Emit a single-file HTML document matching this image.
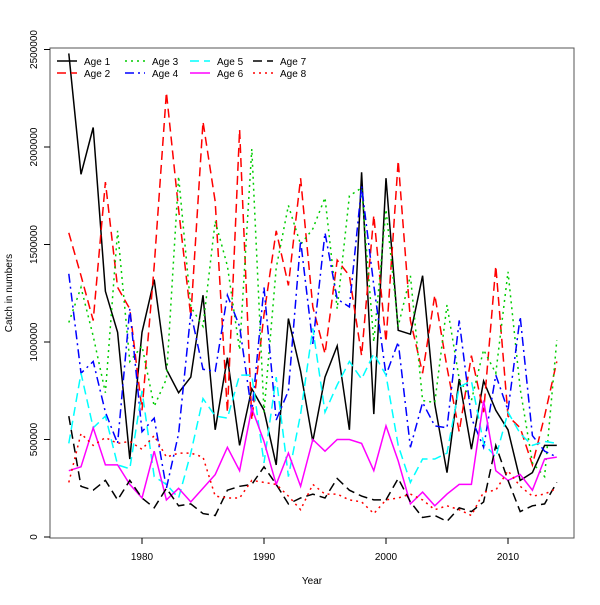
<!DOCTYPE html>
<html><head><meta charset="utf-8"><style>
body{margin:0;background:#fff}
svg{font-family:"Liberation Sans",sans-serif}
</style></head><body>
<svg id="chart" width="600" height="600" xmlns="http://www.w3.org/2000/svg"></svg>
<script>
const years=[];for(let y=1974;y<=2014;y++)years.push(y);
const age1=[2480,1860,2100,1260,1050,400,1050,1320,860,740,820,1240,550,920,470,760,650,370,1120,850,490,820,980,550,1870,630,1840,1060,1040,1340,680,330,810,450,800,650,550,290,330,470,470];
const age2=[1560,1340,1110,1820,1280,1170,650,1390,2280,1680,1130,2130,1720,640,2090,600,1140,1570,1290,1840,1180,940,1420,1340,930,1650,1000,1930,1110,840,1240,870,540,930,640,1390,620,560,370,620,900];
const age3=[1100,1280,1030,740,1570,900,980,670,810,1850,1180,1080,1620,1390,960,1990,640,1380,1700,1500,1580,1740,1170,1750,1790,1000,1680,1080,1340,700,690,1190,810,700,960,840,1360,760,380,310,1010];
const age4=[1350,840,900,640,480,1170,540,610,250,530,1150,860,850,1240,1080,640,1280,600,750,1520,990,1560,1220,1180,1800,1290,830,1000,460,690,570,560,1110,610,460,830,650,1130,520,440,410];
const age5=[480,840,560,620,370,350,750,310,270,200,430,710,620,610,830,830,380,820,310,630,1070,640,780,900,810,940,830,470,280,400,400,430,770,800,480,410,640,530,470,490,480];
const age6=[340,360,560,370,370,270,200,440,190,250,180,250,320,460,340,660,490,270,430,260,500,440,500,500,480,340,570,390,170,230,160,220,270,270,700,340,290,320,240,400,410];
const age7=[620,260,240,290,190,290,200,150,250,160,170,120,110,240,260,270,360,270,170,200,220,200,300,240,210,190,190,300,180,100,110,80,150,130,180,470,290,130,160,170,280];
const age8=[280,530,470,510,480,490,450,520,410,430,430,410,210,200,200,290,280,270,210,140,270,220,220,190,180,120,190,200,220,190,140,160,140,110,230,240,340,260,210,220,250];
const xTicks=[1980,1990,2000,2010];
const yTicks=[0,500000,1000000,1500000,2000000,2500000];
const seriesNames=["Age 1","Age 2","Age 3","Age 4","Age 5","Age 6","Age 7","Age 8"];
const seriesData=[age1,age2,age3,age4,age5,age6,age7,age8];
const colors=["#000","#f00","#0c0","#00f","#0ff","#f0f","#000","#f00"];
const dashes=["","9,5","2,4","9,4,2,4","9,5","","9,5","2,4"];
const NS="http://www.w3.org/2000/svg";
const svg=document.getElementById('chart');
const X=y=>142+(y-1980)*12.2;
const Y=v=>537-v/500000*97.5;
function mk(t,a,p){const e=document.createElementNS(NS,t);for(const k in a)e.setAttribute(k,a[k]);(p||svg).appendChild(e);return e;}
const frame=mk('rect',{x:50,y:48,width:524,height:490,fill:'none',stroke:'#555','stroke-width':1});


xTicks.forEach(t=>{
  const l=mk('line',{x1:X(t),x2:X(t),y1:538,y2:544,stroke:'#000'});
  
  
  const tx=mk('text',{x:X(t),y:560,'font-size':10,'text-anchor':'middle'});tx.textContent=t;
  
  
});
yTicks.forEach(t=>{
  const l=mk('line',{x1:44,x2:50,y1:Y(t),y2:Y(t),stroke:'#000'});
  
  
  const tx=mk('text',{x:0,y:0,'font-size':10,'text-anchor':'middle',transform:`translate(37,${Y(t)}) rotate(-90)`});tx.textContent=t;
  
  
});
const xl=mk('text',{x:312,y:584,'font-size':10,'text-anchor':'middle'});xl.textContent='Year';


const yl=mk('text',{x:0,y:0,'font-size':10,'text-anchor':'middle',transform:'translate(12,293) rotate(-90)'});yl.textContent='Catch in numbers';


seriesData.forEach((d,i)=>{
  const pts=d.map((v,j)=>X(years[j]).toFixed(1)+','+Y(v*1000).toFixed(1)).join(' ');
  const p=mk('polyline',{points:pts,fill:'none',stroke:colors[i],'stroke-width':1.5,'stroke-dasharray':dashes[i]});
  
  
});
const lx=[57,125,190,253];
seriesNames.forEach((n,i)=>{
  const cx=lx[Math.floor(i/2)],cy=i%2?73:61;
  const g=mk('g',{});
  
  
  mk('line',{x1:cx,x2:cx+20,y1:cy,y2:cy,stroke:colors[i],'stroke-width':1.5,'stroke-dasharray':dashes[i]},g);
  const t=mk('text',{x:cx+27,y:cy+4,'font-size':10},g);t.textContent=n;
});
</script>
</body></html>
